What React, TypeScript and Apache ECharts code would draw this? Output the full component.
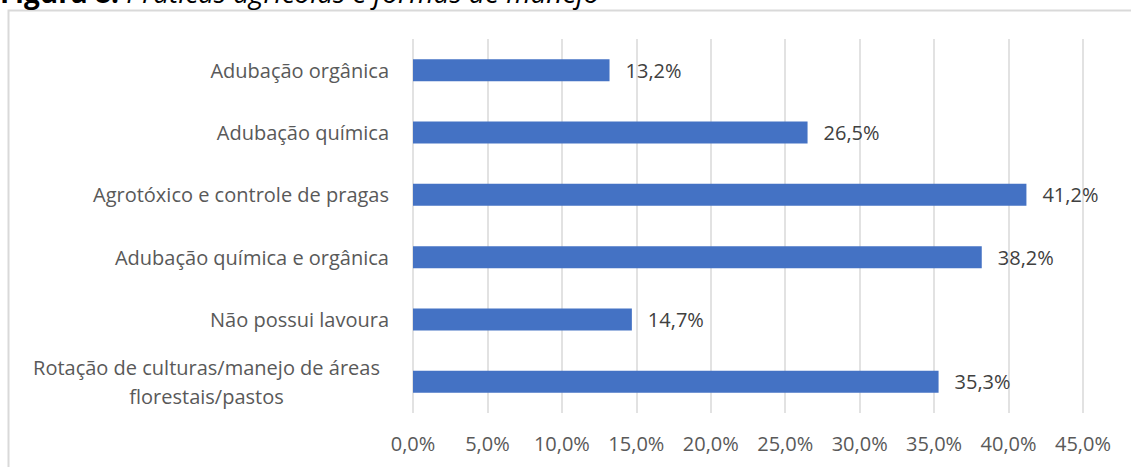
import React, { useEffect, useRef } from "react";
import * as echarts from "echarts";

const categories: string[] = [
  "Adubação orgânica",
  "Adubação química",
  "Agrotóxico e controle de pragas",
  "Adubação química e orgânica",
  "Não possui lavoura",
  "Rotação de culturas/manejo de áreas\nflorestais/pastos",
];
const values: number[] = [13.2, 26.5, 41.2, 38.2, 14.7, 35.3];
const axisMin = 0;
const axisMax = 45;
const axisStep = 5;
const titleBold = "Figura 8:";
const titleRest = " Práticas agrícolas e formas de manejo";

const FONT = "'Open Sans', sans-serif";
const fmt = (v: number) => v.toFixed(1).replace(".", ",") + "%";

export default function App() {
  const ref = useRef<HTMLDivElement>(null);
  useEffect(() => {
    if (!ref.current) return;
    const chart = echarts.init(ref.current, undefined, { renderer: "svg" });
    chart.setOption({
      animation: false,
      backgroundColor: "#ffffff",
      textStyle: { fontFamily: FONT },
      graphic: [
        {
          type: "rect",
          shape: { x: 8.5, y: 10.5, width: 1300, height: 600 },
          style: { fill: "none", stroke: "#D9D9D9", lineWidth: 2 },
          silent: true,
        },
        {
          type: "text",
          left: 0,
          top: -22,
          style: {
            text: `{b|${titleBold}}{i|${titleRest}}`,
            rich: {
              b: { fontFamily: FONT, fontSize: 28, fontWeight: "bold", fill: "#000" },
              i: { fontFamily: FONT, fontSize: 28, fontStyle: "italic", fill: "#000" },
            },
          },
        },
      ],
      grid: { left: 413, right: 48, top: 39, bottom: 54, containLabel: false },
      xAxis: {
        type: "value",
        min: axisMin,
        max: axisMax,
        interval: axisStep,
        axisLine: { show: false },
        axisTick: { show: false },
        splitLine: { show: true, lineStyle: { color: "#D9D9D9", width: 1.5 } },
        axisLabel: {
          formatter: (v: number) => fmt(v),
          color: "#595959",
          fontSize: 20,
          fontFamily: FONT,
          margin: 20,
        },
      },
      yAxis: {
        type: "category",
        inverse: true,
        data: categories,
        axisLine: { show: false },
        axisTick: { show: false },
        splitLine: { show: false },
        axisLabel: {
          color: "#595959",
          fontSize: 20,
          fontFamily: FONT,
          margin: 24,
          lineHeight: 29,
          formatter: (v: string) =>
            v.includes("\n")
              ? v
                  .split("\n")
                  .map((l) => `{c|${l}}`)
                  .join("\n")
              : v,
          rich: {
            c: {
              width: 365,
              align: "center",
              color: "#595959",
              fontSize: 20,
              fontFamily: FONT,
              lineHeight: 29,
            },
          },
        },
      },
      series: [
        {
          type: "bar",
          data: values,
          barWidth: 22,
          itemStyle: { color: "#4472C4" },
          label: {
            show: true,
            position: "right",
            distance: 16,
            color: "#404040",
            fontSize: 20,
            fontFamily: FONT,
            formatter: (p: any) => fmt(p.value),
          },
        },
      ],
    });
    return () => chart.dispose();
  }, []);
  return (
    <div
      ref={ref}
      style={{ position: "fixed", left: 0, top: 0, width: 1131, height: 467 }}
    />
  );
}
